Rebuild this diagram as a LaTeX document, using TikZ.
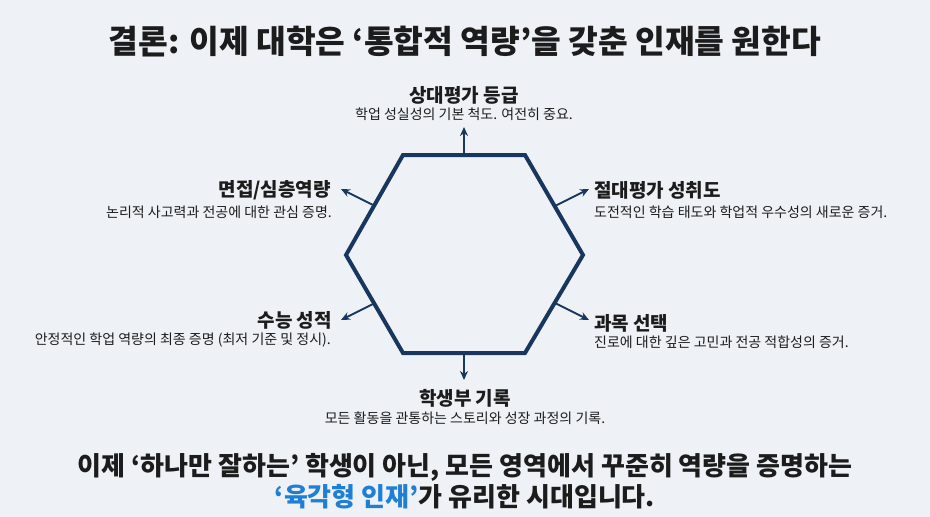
\documentclass[tikz,border=0pt]{standalone}
\usepackage{fontspec}
\setmainfont{Noto Sans CJK KR}
\usetikzlibrary{arrows.meta}

\definecolor{bgcol}{HTML}{EEF2F6}
\definecolor{navy}{HTML}{17375E}
\definecolor{inkcol}{HTML}{1C1C1C}
\definecolor{bluecol}{HTML}{1F7FD4}

\tikzset{
    hexline/.style={draw=navy, line width=4pt, line join=miter},
    pointer/.style={-{Stealth[length=9pt,width=8pt]}, draw=navy, line width=2pt},
    heading/.style={inner sep=0pt, text=inkcol, font=\fontsize{19}{22}\selectfont\bfseries},
    blurb/.style={inner sep=0pt, text=inkcol, font=\fontsize{14}{17}\selectfont},
}

\begin{document}
\begin{tikzpicture}[x=1pt, y=-1pt]
    \fill[bgcol] (0,0) rectangle (930,517);
    \useasboundingbox (0,0) rectangle (930,517);

    % title
    \node[inner sep=0pt, text=inkcol, font=\fontsize{32.3}{38}\selectfont\bfseries] (title) at (465,42)
        {결론: 이제 대학은 ‘통합적 역량’을 갖춘 인재를 원한다};

    % hexagon
    \coordinate (tl) at (403,155);
    \coordinate (tr) at (525,155);
    \coordinate (r) at (583,255);
    \coordinate (br) at (525,353);
    \coordinate (bl) at (403,353);
    \coordinate (l) at (346,255);
    \draw[hexline] (tl) -- (tr) -- (r) -- (br) -- (bl) -- (l) -- cycle;

    % arrows out of the sides
    \coordinate (topside) at (464,155);
    \coordinate (botside) at (464,353);
    \coordinate (urside) at (555,206);
    \coordinate (lrside) at (555,303);
    \coordinate (ulside) at (375,206);
    \coordinate (llside) at (375,303);
    \coordinate (topend) at (464,127);
    \coordinate (botend) at (464,380);
    \coordinate (urend) at (589,189);
    \coordinate (lrend) at (589,320);
    \coordinate (ulend) at (341,189);
    \coordinate (llend) at (341,320);
    \draw[pointer] (topside) -- (topend);
    \draw[pointer] (botside) -- (botend);
    \draw[pointer] (urside) -- (urend);
    \draw[pointer] (lrside) -- (lrend);
    \draw[pointer] (ulside) -- (ulend);
    \draw[pointer] (llside) -- (llend);

    % labels
    \node[heading] (relh) at (464,95) {상대평가 등급};
    \node[blurb] (reld) at (464,114) {학업 성실성의 기본 척도. 여전히 중요.};

    \node[heading, anchor=east] (intvh) at (331,190) {면접/심층역량};
    \node[blurb, anchor=east] (intvd) at (332,212) {논리적 사고력과 전공에 대한 관심 증명.};

    \node[heading, anchor=west] (absh) at (594,190) {절대평가 성취도};
    \node[blurb, anchor=west] (absd) at (594,212) {도전적인 학습 태도와 학업적 우수성의 새로운 증거.};

    \node[heading, anchor=east] (csath) at (332,320) {수능 성적};
    \node[blurb, anchor=east] (csatd) at (331,340) {안정적인 학업 역량의 최종 증명 (최저 기준 및 정시).};

    \node[heading, anchor=west] (subjh) at (594,323) {과목 선택};
    \node[blurb, anchor=west] (subjd) at (594,342) {진로에 대한 깊은 고민과 전공 적합성의 증거.};

    \node[heading] (recordh) at (465,398) {학생부 기록};
    \node[blurb] (recordd) at (465,418) {모든 활동을 관통하는 스토리와 성장 과정의 기록.};

    % closing lines
    \node[inner sep=0pt, text=inkcol, font=\fontsize{26}{31}\selectfont\bfseries] (close1) at (465,467)
        {이제 ‘하나만 잘하는’ 학생이 아닌, 모든 영역에서 꾸준히 역량을 증명하는};
    \node[inner sep=0pt, text=inkcol, font=\fontsize{26}{31}\selectfont\bfseries] (close2) at (465,497)
        {\textcolor{bluecol}{‘육각형 인재’}가 유리한 시대입니다.};
\end{tikzpicture}
\end{document}
